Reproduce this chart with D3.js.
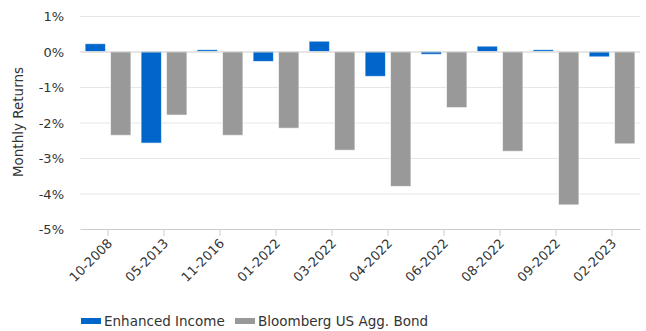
<!DOCTYPE html>
<meta charset="utf-8">
<title>Monthly Returns</title>
<style>
body { margin: 0; background: #fff; }
text { font-family: "DejaVu Sans", Verdana, sans-serif; fill: #333; }
</style>
<body>
<svg></svg>
<script src="https://d3js.org/d3.v7.min.js"></script>
<script>

var months = ["10-2008", "05-2013", "11-2016", "01-2022", "03-2022", "04-2022", "06-2022", "08-2022", "09-2022", "02-2023"];
var enhanced = [0.22, -2.58, 0.05, -0.28, 0.29, -0.70, -0.08, 0.15, 0.05, -0.15];
var aggBond = [-2.36, -1.79, -2.36, -2.16, -2.78, -3.80, -1.58, -2.81, -4.32, -2.60];
var seriesNames = ["Enhanced Income", "Bloomberg US Agg. Bond"];
var colors = ["#0066cc", "#999999"];
var yTicks = [1, 0, -1, -2, -3, -4, -5];

var width = 646, height = 331,
    margin = {left: 80, right: 6, top: 16, bottom: 102};

var svg = d3.select("svg").attr("width", width).attr("height", height);

var x = d3.scaleBand().domain(months).range([margin.left, width - margin.right]).paddingInner(0).paddingOuter(0);
var inner = d3.scaleBand().domain([0, 1]).range([0, x.bandwidth()]).paddingInner(0.2).paddingOuter(0.2);
var y = d3.scaleLinear().domain([-5, 1]).range([height - margin.bottom, margin.top]);

// grid
svg.append("g").selectAll("line")
    .data(yTicks.filter(d => d != 0 && d != -5))
    .join("line")
    .attr("x1", margin.left).attr("x2", width - margin.right)
    .attr("y1", d => y(d) + 0.5).attr("y2", d => y(d) + 0.5)
    .attr("stroke", "#e6e6e6");

// y labels
svg.append("g").selectAll("text")
    .data(yTicks)
    .join("text")
    .attr("x", 64).attr("y", d => y(d) + 5)
    .attr("text-anchor", "end")
    .style("font-size", "13px")
    .text(d => d + "%");

svg.append("text")
    .attr("transform", "translate(23,122) rotate(-90)")
    .attr("text-anchor", "middle")
    .style("font-size", "13.5px")
    .text("Monthly Returns");

// bars
var data = [enhanced, aggBond];
data.forEach(function(vals, s){
    svg.append("g").selectAll("rect")
        .data(vals)
        .join("rect")
        .attr("x", (d, i) => x(months[i]) + inner(s))
        .attr("width", inner.bandwidth())
        .attr("y", d => y(Math.max(0, d)))
        .attr("height", d => Math.max(1, Math.abs(y(d) - y(0))))
        .attr("fill", colors[s])
        .attr("stroke", "#fff")
        .attr("stroke-opacity", 0.6)
        .attr("stroke-width", 1);
});

// zero line
svg.append("line")
    .attr("x1", margin.left).attr("x2", width - margin.right)
    .attr("y1", y(0) + 0.5).attr("y2", y(0) + 0.5)
    .attr("stroke", "#ccc");

// x axis
var xAxis = svg.append("g")
    .attr("transform", "translate(0," + y(-5) + ")")
    .call(d3.axisBottom(x).tickSize(7).tickSizeOuter(0));
xAxis.select(".domain").attr("stroke", "#ccc");
xAxis.selectAll(".tick line").attr("stroke", "#ccc");
xAxis.selectAll(".tick text")
    .attr("transform", "translate(2,12) rotate(-45)")
    .attr("text-anchor", "end")
    .attr("x", 0).attr("y", 0)
    .attr("dy", "0.35em")
    .style("font-size", "13px")
    .style("font-family", '"DejaVu Sans", Verdana, sans-serif')
    .attr("fill", "#333");

// legend
var legendX = [81, 235];
seriesNames.forEach(function(name, s){
    var g = svg.append("g").attr("transform", "translate(" + legendX[s] + ",318)");
    g.append("rect").attr("width", 20).attr("height", 6).attr("fill", colors[s]);
    g.append("text").attr("x", 23).attr("y", 8).style("font-size", "13.5px").text(name);
});
</script>
</body>
